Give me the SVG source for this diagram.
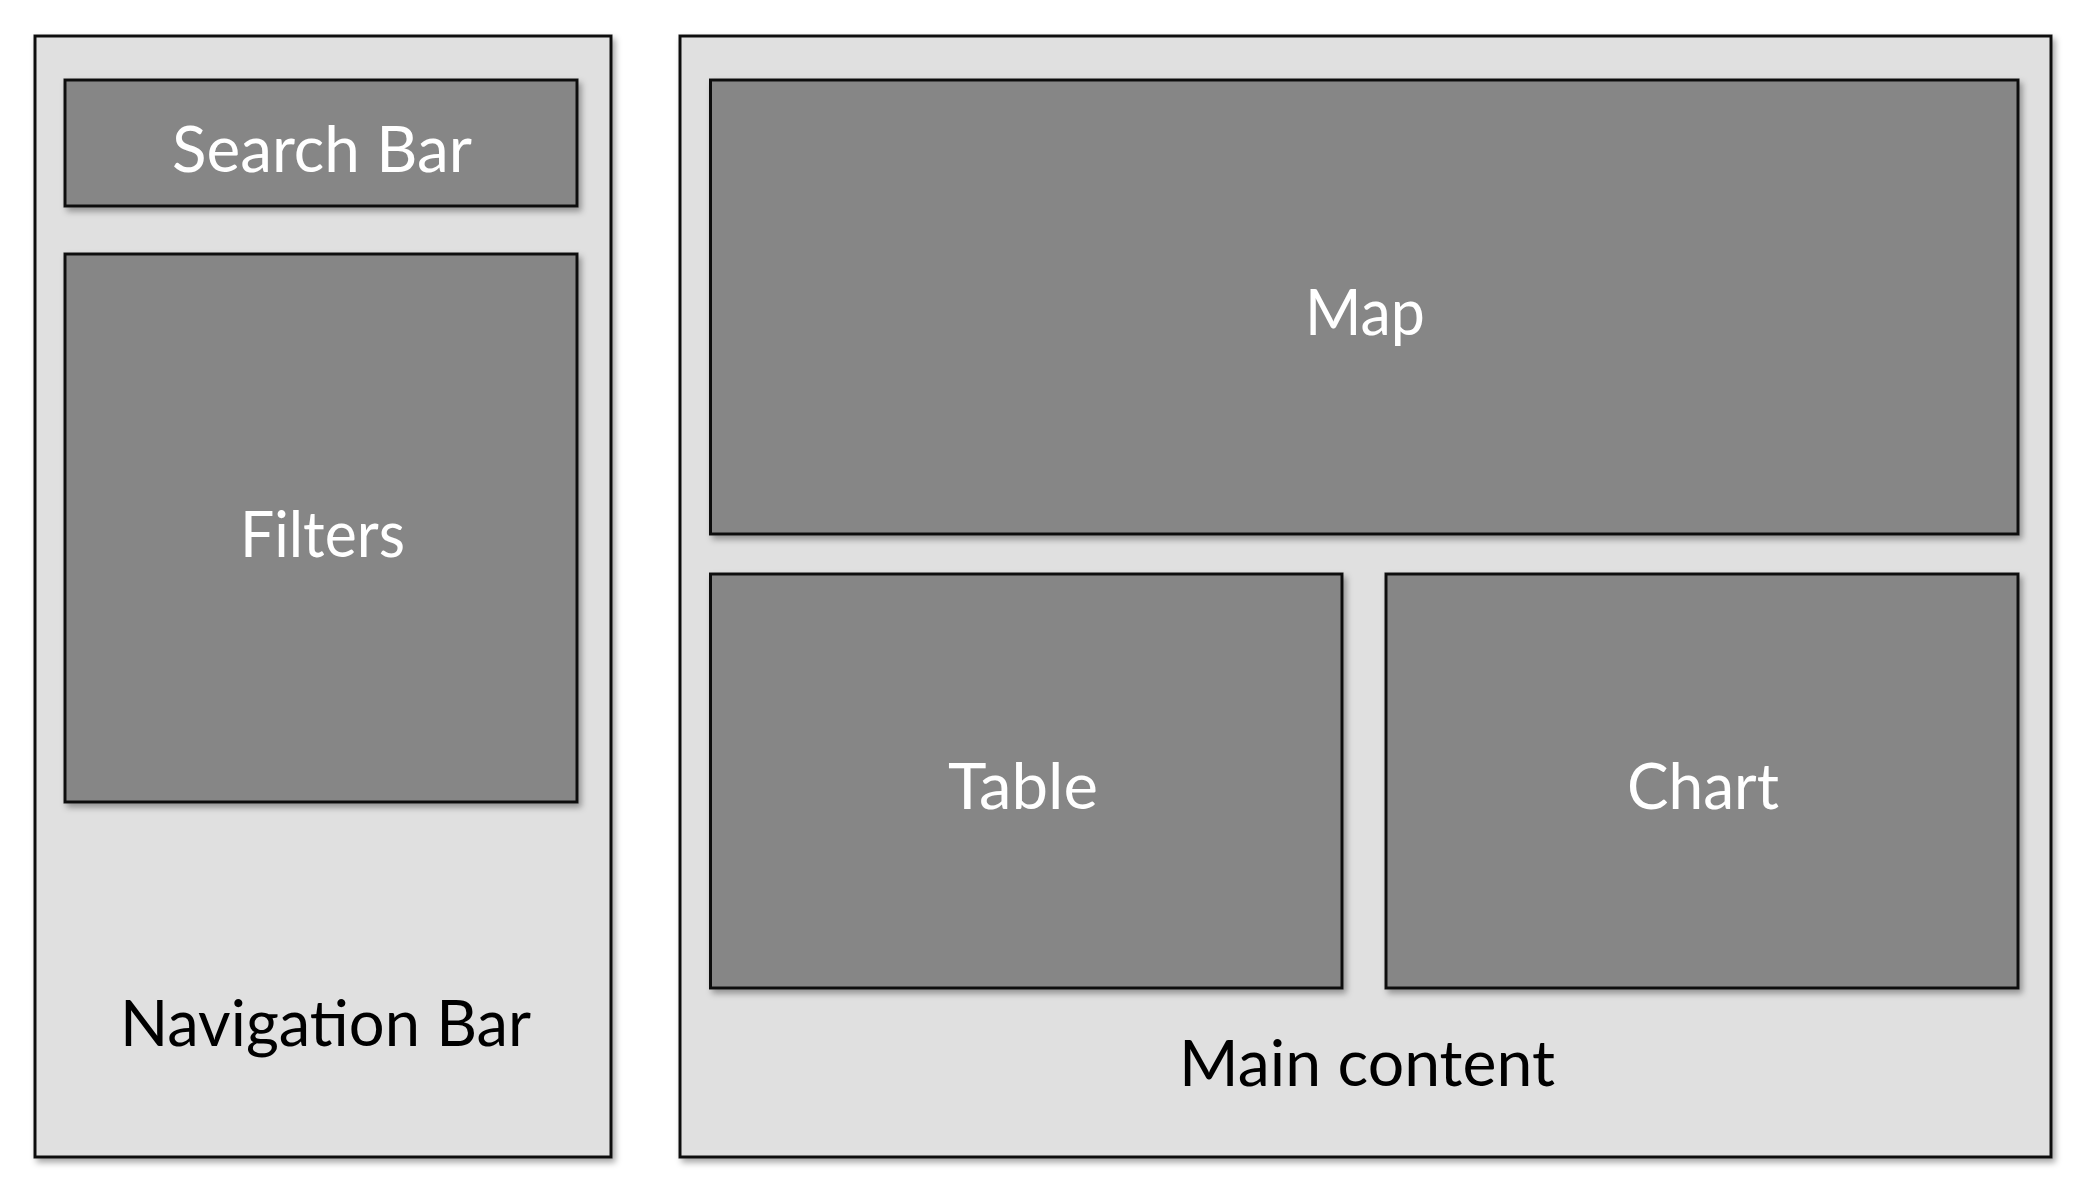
<svg xmlns="http://www.w3.org/2000/svg" width="2098" height="1204" viewBox="0 0 2098 1204">
  <defs>
    <filter id="shadow" x="-5%" y="-5%" width="115%" height="115%">
      <feDropShadow dx="3" dy="4" stdDeviation="3" flood-color="#000" flood-opacity="0.35"/>
    </filter>
  </defs>
  <style>
    .outer { fill: #e0e0e0; stroke: #111; stroke-width: 3; filter: url(#shadow); }
    .inner { fill: #868686; stroke: #111; stroke-width: 3; filter: url(#shadow); }
    .lbl { font-family: Lato, "Open Sans", sans-serif; font-size: 64px; text-anchor: middle; }
    .dark { fill: #000; }
    .light { fill: #fff; }
  </style>
  <rect width="2098" height="1204" fill="#fff"/>
  <g id="navigation-bar">
    <rect class="outer" x="35" y="36" width="576" height="1121"/>
    <text class="lbl dark" x="325.5" y="1046" textLength="411" lengthAdjust="spacingAndGlyphs">Navigation Bar</text>
  </g>
  <g id="search-bar">
    <rect class="inner" x="65" y="80" width="512" height="126"/>
    <text class="lbl light" x="322" y="172" textLength="300" lengthAdjust="spacingAndGlyphs">Search Bar</text>
  </g>
  <g id="filters">
    <rect class="inner" x="65" y="254" width="512" height="548"/>
    <text class="lbl light" x="322.5" y="557" textLength="165" lengthAdjust="spacingAndGlyphs">Filters</text>
  </g>
  <g id="main-content">
    <rect class="outer" x="680" y="36" width="1371" height="1121"/>
    <text class="lbl dark" x="1367" y="1086" textLength="376" lengthAdjust="spacingAndGlyphs">Main content</text>
  </g>
  <g id="map">
    <rect class="inner" x="710.5" y="80" width="1307.5" height="454"/>
    <text class="lbl light" x="1365" y="335" textLength="120" lengthAdjust="spacingAndGlyphs">Map</text>
  </g>
  <g id="table">
    <rect class="inner" x="710.5" y="574" width="631.5" height="414"/>
    <text class="lbl light" x="1023" y="809" textLength="150" lengthAdjust="spacingAndGlyphs">Table</text>
  </g>
  <g id="chart">
    <rect class="inner" x="1386" y="574" width="632" height="414"/>
    <text class="lbl light" x="1703" y="809" textLength="152" lengthAdjust="spacingAndGlyphs">Chart</text>
  </g>
  <g id="connectors"></g>
</svg>
